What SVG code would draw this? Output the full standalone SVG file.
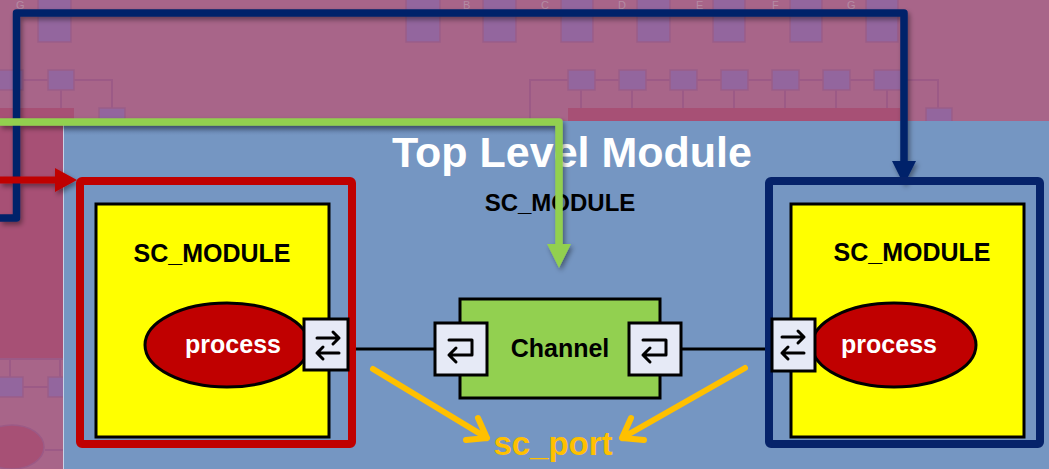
<svg xmlns="http://www.w3.org/2000/svg" width="1049" height="469" viewBox="0 0 1049 469">
<defs>
<style>
.faint-sq{fill:#93669e;stroke:#9a5d88;stroke-width:1.5}
.faint-ln{fill:none;stroke:#9c5a86;stroke-width:2}
.faint-tx{font-family:"Liberation Sans",Arial,sans-serif;font-size:11px;fill:#b48aa3}
.lbl{font-family:"Liberation Sans",Arial,sans-serif;font-weight:bold;text-anchor:middle}
.yellow{fill:#ffff00;stroke:#000;stroke-width:3}
.proc{fill:#c00000;stroke:#000;stroke-width:3}
.port{fill:#e6eaf6;stroke:#000;stroke-width:3}
.icon{fill:none;stroke:#000;stroke-width:3;stroke-linecap:round;stroke-linejoin:round}
.wire{fill:none;stroke:#000;stroke-width:3}
.orange{fill:none;stroke:#ffc000;stroke-width:6;stroke-linecap:round;stroke-linejoin:round}
</style>
<filter id="sh" x="-10%" y="-10%" width="130%" height="130%">
<feDropShadow dx="2" dy="3" stdDeviation="2.5" flood-color="#000" flood-opacity="0.4"/>
</filter>
<linearGradient id="panelTop" x1="0" y1="0" x2="0" y2="1">
<stop offset="0" stop-color="#56709c"/>
<stop offset="1" stop-color="#7596c2"/>
</linearGradient>
</defs>

<g id="background">
<rect x="0" y="0" width="1049" height="469" fill="#a86589"/>
<rect x="0" y="108" width="74" height="250" fill="#a75075"/>
<text class="faint-tx" x="16" y="9">G</text>
<rect class="faint-sq" x="38" y="-2" width="33" height="44"/>
<rect class="faint-sq" x="406" y="-2" width="34" height="44"/>
<rect class="faint-sq" x="483" y="-2" width="33" height="44"/>
<rect class="faint-sq" x="561" y="-2" width="32" height="44"/>
<rect class="faint-sq" x="637" y="-2" width="33" height="44"/>
<rect class="faint-sq" x="713" y="-2" width="32" height="44"/>
<rect class="faint-sq" x="790" y="-2" width="32" height="44"/>
<rect class="faint-sq" x="866" y="-2" width="32" height="44"/>
<text class="faint-tx" x="463" y="9">B</text>
<text class="faint-tx" x="541" y="9">C</text>
<text class="faint-tx" x="618" y="9">D</text>
<text class="faint-tx" x="696" y="9">E</text>
<text class="faint-tx" x="772" y="9">F</text>
<text class="faint-tx" x="847" y="9">G</text>
<path class="faint-ln" d="M23 80H48M74 80H112V108M61 90V108"/>
<rect class="faint-sq" x="-2" y="70" width="25" height="20"/>
<rect class="faint-sq" x="48" y="70" width="26" height="20"/>
<rect class="faint-sq" x="99" y="108" width="26" height="16"/>
<rect x="568" y="108" width="332" height="14" fill="#a75075"/>
<path class="faint-ln" d="M530 120V80H938V108M581 90V108M632 90V108M683 90V108M734 90V108M785 90V108M836 90V108M887 90V108"/>
<rect class="faint-sq" x="568" y="70" width="27" height="20"/>
<rect class="faint-sq" x="619" y="70" width="27" height="20"/>
<rect class="faint-sq" x="670" y="70" width="27" height="20"/>
<rect class="faint-sq" x="721" y="70" width="27" height="20"/>
<rect class="faint-sq" x="772" y="70" width="27" height="20"/>
<rect class="faint-sq" x="823" y="70" width="27" height="20"/>
<rect class="faint-sq" x="874" y="70" width="27" height="20"/>
<rect class="faint-sq" x="926" y="108" width="26" height="16"/>
<path class="faint-ln" d="M10 358V377M60 358V377M0 359H63M23 387H48M45 450H63"/>
<rect class="faint-sq" x="-2" y="377" width="25" height="20"/>
<rect class="faint-sq" x="48" y="377" width="20" height="20"/>
<ellipse cx="12" cy="447" rx="32" ry="22" fill="#a75075" stroke="#9c5a86" stroke-width="1.5"/>
</g>

<g id="panel">
<rect x="63" y="121" width="986" height="348" fill="#7596c2"/>
<rect x="63" y="121" width="497" height="14" fill="url(#panelTop)"/>
<line x1="63.5" y1="121" x2="63.5" y2="469" stroke="#c9d3e6" stroke-width="1"/>
</g>

<g id="node-top-title">
<text class="lbl" x="572" y="167" font-size="43" fill="#ffffff">Top Level Module</text>
<text class="lbl" x="560" y="211" font-size="24" fill="#000">SC_MODULE</text>
</g>

<g id="connectors">
<line class="wire" x1="348" y1="349" x2="435" y2="349"/>
<line class="wire" x1="681" y1="349" x2="772" y2="349"/>
<g filter="url(#sh)">
<path d="M0 218H16.5V13H904V163" fill="none" stroke="#06236a" stroke-width="7.5" stroke-linejoin="round"/>
<polygon points="892,161 916,161 904,185" fill="#06236a"/>
<path d="M0 122H559V245" fill="none" stroke="#92d050" stroke-width="7.5" stroke-linejoin="round"/>
<polygon points="547,244 571,244 559,268" fill="#92d050"/>
<path d="M0 180H56" fill="none" stroke="#c00000" stroke-width="7"/>
<polygon points="55,168 77,180 55,192" fill="#c00000"/>
</g>
<path class="orange" d="M373 369L487 438M478 418L487 438L466 440"/>
<path class="orange" d="M745 368L622 438M631 418L622 438L644 440"/>
</g>

<g id="node-left-module">
<rect x="80" y="181" width="272" height="263" rx="2" fill="none" stroke="#c00000" stroke-width="8"/>
<rect class="yellow" x="96" y="204" width="233" height="233"/>
<text class="lbl" x="212" y="262" font-size="25" fill="#000">SC_MODULE</text>
<ellipse class="proc" cx="227" cy="345" rx="82" ry="42"/>
<text class="lbl" x="233" y="353" font-size="25" fill="#ffffff">process</text>
<rect class="port" x="304" y="319" width="44" height="51"/>
<path class="icon" d="M317 338H339M333 332L339 338L333 344M339 353H317M323 347L317 353L323 359"/>
</g>

<g id="node-channel">
<rect x="460" y="299" width="200" height="99" fill="#92d050" stroke="#000" stroke-width="3"/>
<text class="lbl" x="560" y="357" font-size="25" fill="#000">Channel</text>
<rect class="port" x="435" y="323" width="52" height="52"/>
<path class="icon" d="M449 340H472V355H449M456 348L449 355L456 362"/>
<rect class="port" x="629" y="323" width="52" height="52"/>
<path class="icon" d="M643 340H666V355H643M650 348L643 355L650 362"/>
</g>

<g id="node-right-module">
<rect x="769" y="181" width="271" height="263" rx="2" fill="none" stroke="#06236a" stroke-width="8"/>
<rect class="yellow" x="791" y="204" width="233" height="233"/>
<text class="lbl" x="912" y="261" font-size="25" fill="#000">SC_MODULE</text>
<ellipse class="proc" cx="894" cy="345" rx="82" ry="42"/>
<text class="lbl" x="889" y="353" font-size="25" fill="#ffffff">process</text>
<rect class="port" x="772" y="319" width="43" height="52"/>
<path class="icon" d="M782 337H804M798 331L804 337L798 343M804 353H782M788 347L782 353L788 359"/>
</g>

<g id="label-sc-port">
<text class="lbl" x="553" y="455" font-size="33" fill="#ffc000">sc_port</text>
</g>
</svg>
